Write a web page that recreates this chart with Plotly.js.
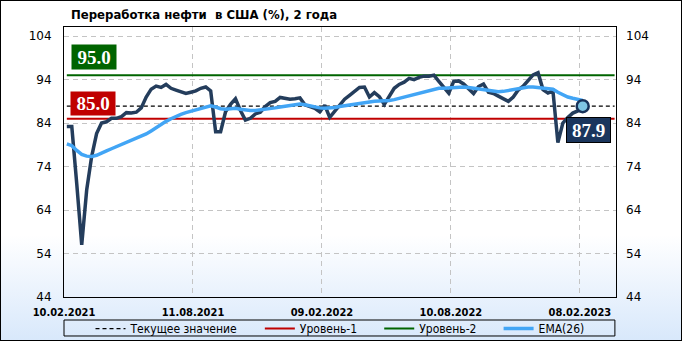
<!DOCTYPE html>
<html><head><meta charset="utf-8">
<script src="https://cdn.plot.ly/plotly-3.0.1.min.js"></script>
<style>
html,body{margin:0;padding:0;background:#fff;}
#wrap{position:relative;width:682px;height:341px;background:linear-gradient(to bottom,#ffffff 0px,#ffffff 235px,#d8e8fb 341px);}
#chart{width:682px;height:341px;}
#frame{position:absolute;left:0;top:0;width:682px;height:341px;box-sizing:border-box;border:1px solid #000;pointer-events:none;}
</style></head>
<body><div id="wrap"><div id="chart"></div><div id="frame"></div></div>
<script>
// ---- data ----
const startDate = '2021-02-14';   // first weekly observation
const refining = [83.2,83.2,70.0,56.0,68.6,76.3,81.6,84.0,84.3,85.1,
  85.1,85.5,86.4,86.3,86.5,87.5,90.0,91.8,92.5,92.2,
  92.9,92.0,91.6,91.2,90.8,91.1,91.4,92.0,92.3,91.4,
  82.0,82.0,86.6,88.3,89.6,86.9,84.7,85.1,86.1,86.5,
  87.8,88.7,89.0,89.9,89.7,89.5,89.6,89.8,88.2,87.8,
  87.4,86.6,88.1,85.3,86.8,88.0,89.5,90.4,91.4,92.2,
  92.3,90.0,91.0,90.1,88.3,90.3,92.0,92.9,93.4,94.3,
  94.0,94.5,94.8,94.8,95.0,93.6,92.2,90.9,93.6,93.7,
  93.0,91.8,90.8,92.4,93.0,91.1,90.8,90.2,89.6,89.0,
  90.0,91.6,92.5,93.8,95.1,95.6,91.7,90.9,91.4,79.5,
  84.0,85.3,86.3,86.8,87.9];
const ema26 = [79.2,78.8,77.7,76.8,76.4,76.3,76.6,77.0,77.6,78.1,
  78.6,79.0,79.5,80.0,80.4,80.9,81.5,82.2,83.0,83.7,
  84.4,85.0,85.6,86.0,86.4,86.7,87.0,87.4,87.8,88.0,
  87.7,87.3,87.2,87.3,87.4,87.2,87.0,86.9,86.9,87.0,
  87.2,87.4,87.5,87.7,87.9,88.1,88.3,88.4,88.2,87.9,
  87.7,87.5,87.4,87.4,87.6,87.8,88.0,88.1,88.3,88.5,
  88.7,88.9,89.0,89.1,89.1,89.2,89.4,89.7,89.9,90.1,
  90.4,90.7,91.1,91.5,91.8,92.0,92.0,92.1,92.2,92.3,
  92.3,92.2,92.0,91.8,91.7,91.5,91.3,91.2,91.3,91.5,
  91.8,92.0,92.2,92.3,92.3,92.2,92.1,92.0,91.8,91.1,
  90.5,90.0,89.7,89.5,89.2];
const level1 = 85.0;
const level2 = 95.0;
const currentValue = 87.9;
const legendNames = ['Текущее значение', 'Уровень-1', 'Уровень-2', 'EMA(26)'];
const xTickDates = ['2021-02-10','2021-08-11','2022-02-09','2022-08-10','2023-02-08'];
const xTickLabels = ['10.02.2021','11.08.2021','09.02.2022','10.08.2022','08.02.2023'];
const yTicks = [44,54,64,74,84,94,104];
const xRange = ['2021-02-10','2023-03-31'];
const yRange = [44,106.1];

// weekly dates
const t0 = Date.parse(startDate + 'T00:00:00Z');
const dates = refining.map((_, i) => new Date(t0 + i*7*86400000).toISOString().slice(0,10));
const last = dates.length - 1;
const lineEnd = '2023-03-29';
const pad = '\u00a0'.repeat(5);   // extra spacing between legend entries

const traces = [
  {x:[dates[0], lineEnd], y:[currentValue, currentValue], mode:'lines', name:legendNames[0] + pad,
   line:{color:'#000', width:1.2, dash:'4px,3px'}, hoverinfo:'skip'},
  {x:[dates[0], lineEnd], y:[level1, level1], mode:'lines', name:legendNames[1] + pad,
   line:{color:'#c00000', width:2}, hoverinfo:'skip'},
  {x:[dates[0], lineEnd], y:[level2, level2], mode:'lines', name:legendNames[2] + pad,
   line:{color:'#006400', width:2}, hoverinfo:'skip'},
  {x:dates, y:refining, mode:'lines', name:'Переработка', showlegend:false,
   line:{color:'#243d5c', width:3.5}},
  {x:dates, y:ema26, mode:'lines', name:legendNames[3],
   line:{color:'#42a5f5', width:3.5}},
  {x:[dates[last]], y:[refining[last]], yaxis:'y2', mode:'markers', showlegend:false,
   marker:{size:12, color:'#7fc6e4', line:{color:'#17325a', width:2.5}}}
];

const tickFont = {family:'DejaVu Sans, Verdana, sans-serif', size:12, color:'#000'};
const layout = {
  width:682, height:341,
  margin:{l:64, r:66, t:27, b:44, autoexpand:false},
  paper_bgcolor:'rgba(0,0,0,0)', plot_bgcolor:'rgba(0,0,0,0)',
  title:{text:'Переработка нефти  в США (%), 2 года', x:71/682, xanchor:'left', xref:'container',
         y:1-14/341, yref:'container', yanchor:'middle',
         font:{family:'DejaVu Sans Condensed, DejaVu Sans, sans-serif', size:13, weight:'bold', color:'#000'}},
  xaxis:{type:'date', range:xRange, tickvals:xTickDates, ticktext:xTickLabels, ticks:'',
         showgrid:true, gridcolor:'#c4c4c4', griddash:'5px,4px', gridwidth:1,
         showline:true, mirror:true, linecolor:'#000', linewidth:1, zeroline:false,
         tickfont:{family:'DejaVu Sans Condensed, DejaVu Sans, sans-serif', size:11, weight:'bold', color:'#000'},
         ticklabelstandoff:5, fixedrange:true},
  yaxis:{range:yRange, tickvals:yTicks, ticks:'', showgrid:true, gridcolor:'#c4c4c4', griddash:'5px,4px', gridwidth:1,
         showline:true, mirror:true, linecolor:'#000', linewidth:1, zeroline:false,
         tickfont:tickFont, ticklabelstandoff:9, fixedrange:true},
  yaxis2:{range:yRange, tickvals:yTicks, ticks:'', overlaying:'y', side:'right', showgrid:false,
          showline:false, zeroline:false, tickfont:tickFont, ticklabelstandoff:9, fixedrange:true},
  showlegend:true,
  legend:{orientation:'h', x:0.5, xanchor:'center', y:-0.117, yanchor:'middle',
          bgcolor:'rgba(0,0,0,0)', borderwidth:0,
          font:{family:'DejaVu Sans Condensed, DejaVu Sans, sans-serif', size:12, color:'#000'}},
  shapes:[
    {type:'rect', xref:'paper', yref:'paper', x0:0, x1:0.998, y0:-0.1444, y1:-0.0852,
     line:{color:'#000', width:1}, fillcolor:'rgba(0,0,0,0)'}
  ],
  annotations:[
    {text:'<b>95.0</b>', xref:'paper', x:7/552, xanchor:'left', yref:'y', y:level2, yanchor:'bottom', yshift:5,
     showarrow:false, bgcolor:'#006400', borderpad:3, width:38, height:18,
     font:{family:'Liberation Serif, DejaVu Serif, serif', size:19, color:'#fff'}},
    {text:'<b>85.0</b>', xref:'paper', x:6/552, xanchor:'left', yref:'y', y:level1, yanchor:'bottom', yshift:3,
     showarrow:false, bgcolor:'#c00000', borderpad:3, width:38, height:17,
     font:{family:'Liberation Serif, DejaVu Serif, serif', size:19, color:'#fff'}},
    {text:'<b>87.9</b>', xref:'x', x:dates[last], xanchor:'center', xshift:6, yref:'y', y:currentValue,
     yanchor:'top', yshift:-11, showarrow:false, bgcolor:'#1b365d', bordercolor:'#000', borderwidth:1,
     borderpad:3, width:37, height:18,
     font:{family:'Liberation Serif, DejaVu Serif, serif', size:19, color:'#fff'}}
  ]
};

Plotly.newPlot('chart', traces, layout, {displayModeBar:false, staticPlot:true});
</script></body></html>
